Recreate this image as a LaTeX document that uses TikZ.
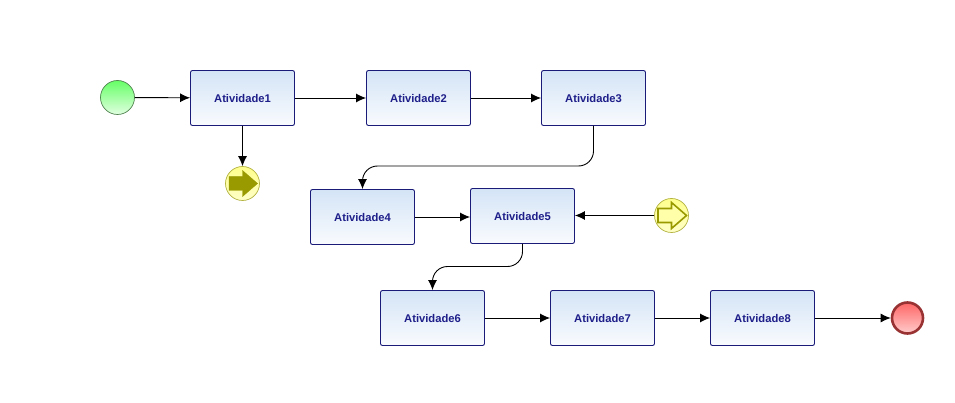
\documentclass[tikz,border=0pt]{standalone}
\usepackage{fontspec}
\setmainfont{Liberation Sans}
\usetikzlibrary{arrows.meta, positioning}

\definecolor{boxline}{HTML}{1A1A78}
\definecolor{boxtext}{HTML}{1F1F8A}
\definecolor{boxtop}{HTML}{D4E4F6}
\definecolor{boxbottom}{HTML}{F9FBFE}
\definecolor{olive}{HTML}{999900}

\tikzset{
  activity/.style={draw=boxline, line width=0.9pt, rounded corners=2pt, top color=boxtop, bottom color=boxbottom,
    minimum width=104pt, minimum height=55pt, inner sep=0pt, text height=9pt, text=boxtext, font=\fontsize{11.2pt}{13pt}\selectfont\bfseries},
  startev/.style={circle, draw={rgb,255:red,80;green,130;blue,80}, line width=0.7pt, top color={rgb,255:red,102;green,255;blue,102}, bottom color={rgb,255:red,225;green,255;blue,225}, minimum size=34pt, inner sep=0pt},
  signalev/.style={circle, draw=olive!75, line width=0.7pt, top color={rgb,255:red,255;green,255;blue,140}, bottom color={rgb,255:red,255;green,255;blue,200}, minimum size=34pt, inner sep=0pt},
  endev/.style={circle, draw={rgb,255:red,153;green,51;blue,51}, line width=2.6pt, top color={rgb,255:red,255;green,102;blue,102}, bottom color={rgb,255:red,255;green,204;blue,204}, minimum size=31pt, inner sep=0pt},
  flow/.style={draw=black, line width=0.9pt, -{Latex[length=10pt,width=9pt]}, rounded corners=15pt},
  signalfull/.style={fill=olive, draw=olive},
  signalopen/.style={fill={rgb,255:red,255;green,255;blue,170}, draw=olive, line width=1.6pt}
}
\newcommand{\signalarrow}[2]{\draw[#1, shift={(#2)}] (-13.5,-7) -- (0,-7) -- (0,-13) -- (15,0) -- (0,13) -- (0,7) -- (-13.5,7) -- cycle;}

\begin{document}
\begin{tikzpicture}[x=1pt, y=-1pt]
\useasboundingbox (0,0) rectangle (955,403);
\node[startev] (start) at (117.5,97.5) {};
\node[activity] (a1) at (242.5,98) {Atividade1};
\node[activity] (a2) at (418.5,98) {Atividade2};
\node[activity] (a3) at (593.5,98) {Atividade3};
\node[activity] (a4) at (362.5,217) {Atividade4};
\node[activity] (a5) at (522.5,216) {Atividade5};
\node[activity] (a6) at (432.5,318) {Atividade6};
\node[activity] (a7) at (602.5,318) {Atividade7};
\node[activity] (a8) at (762.5,318) {Atividade8};
\node[signalev] (sigout) at (242.5,183.5) {};
\node[signalev] (sigin) at (671.5,215.5) {};
\node[endev] (end) at (907.5,318) {};
\signalarrow{signalfull}{sigout.center}
\signalarrow{signalopen}{sigin.center}
\coordinate (bend34) at (480,166);
\coordinate (bend56) at (480,266.5);
\draw[flow] (start) -- (a1);
\draw[flow] (a1) -- (a2);
\draw[flow] (a2) -- (a3);
\draw[flow] (a1) -- (sigout);
\draw[flow] (a3.south) |- (bend34) -| (a4.north);
\draw[flow] (a4.east) -- (a5.west |- a4.east);
\draw[flow] (sigin) -- (a5.east |- sigin);
\draw[flow] (a5.south) |- (bend56) -| (a6.north);
\draw[flow] (a6) -- (a7);
\draw[flow] (a7) -- (a8);
\draw[flow] (a8) -- (end);
\end{tikzpicture}
\end{document}
